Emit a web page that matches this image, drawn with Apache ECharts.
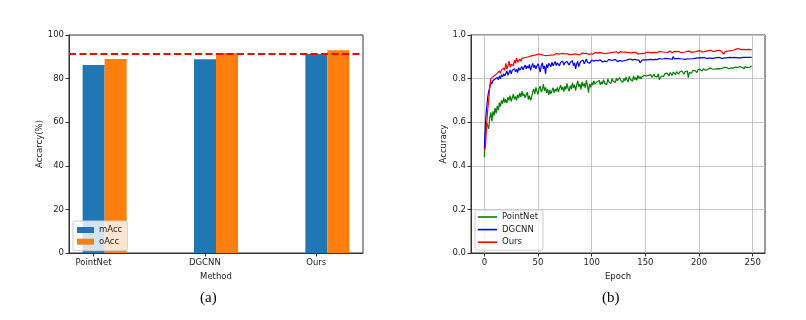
<!DOCTYPE html>
<html>
<head>
<meta charset="utf-8">
<script src="https://cdn.jsdelivr.net/npm/echarts@6/dist/echarts.min.js"></script>
<style>
html, body { margin: 0; padding: 0; background: #fff; }
#chart { width: 806px; height: 320px; }
</style>
</head>
<body>
<div id="chart"></div>
<script>
// (a) bar chart data
const methods = ["PointNet", "DGCNN", "Ours"];
const mAcc = [86.2, 88.9, 91.3];
const oAcc = [89.0, 91.7, 93.0];
const baseline = 91.2;

// (b) accuracy per epoch
const epochTicks = [0, 50, 100, 150, 200, 250];
const accPointNet = [
  0.440, 0.550, 0.600, 0.585, 0.570, 0.620, 0.645, 0.605, 0.650, 0.630,
  0.665, 0.640, 0.675, 0.655, 0.690, 0.672, 0.700, 0.685, 0.712, 0.690,
  0.705, 0.688, 0.715, 0.700, 0.722, 0.695, 0.712, 0.728, 0.705, 0.718,
  0.700, 0.725, 0.712, 0.735, 0.715, 0.742, 0.720, 0.730, 0.712, 0.725,
  0.738, 0.705, 0.722, 0.700, 0.715, 0.738, 0.752, 0.730, 0.760, 0.742,
  0.728, 0.755, 0.765, 0.738, 0.750, 0.775, 0.745, 0.760, 0.735, 0.752,
  0.725, 0.748, 0.730, 0.745, 0.758, 0.735, 0.752, 0.742, 0.760, 0.738,
  0.755, 0.770, 0.748, 0.762, 0.740, 0.765, 0.750, 0.778, 0.755, 0.742,
  0.768, 0.752, 0.780, 0.758, 0.772, 0.745, 0.770, 0.790, 0.762, 0.775,
  0.750, 0.785, 0.765, 0.778, 0.758, 0.792, 0.770, 0.735, 0.775, 0.760,
  0.782, 0.770, 0.790, 0.775, 0.768, 0.785, 0.778, 0.792, 0.772, 0.786,
  0.775, 0.795, 0.780, 0.788, 0.772, 0.798, 0.785, 0.790, 0.778, 0.800,
  0.788, 0.795, 0.782, 0.802, 0.790, 0.785, 0.805, 0.792, 0.798, 0.783,
  0.800, 0.790, 0.808, 0.795, 0.785, 0.810, 0.797, 0.803, 0.788, 0.812,
  0.795, 0.805, 0.792, 0.815, 0.800, 0.810, 0.798, 0.808, 0.803, 0.815,
  0.808, 0.812, 0.805, 0.815, 0.810, 0.818, 0.806, 0.812, 0.820, 0.810,
  0.815, 0.808, 0.822, 0.795, 0.788, 0.812, 0.818, 0.810, 0.822, 0.815,
  0.825, 0.818, 0.812, 0.828, 0.820, 0.815, 0.830, 0.822, 0.818, 0.832,
  0.825, 0.820, 0.830, 0.822, 0.835, 0.828, 0.820, 0.832, 0.826, 0.835,
  0.805, 0.828, 0.832, 0.825, 0.836, 0.830, 0.838, 0.832, 0.828, 0.840,
  0.835, 0.842, 0.838, 0.835, 0.845, 0.840, 0.838, 0.846, 0.842, 0.840,
  0.848, 0.842, 0.845, 0.850, 0.843, 0.847, 0.845, 0.850, 0.846, 0.848,
  0.845, 0.850, 0.848, 0.846, 0.852, 0.848, 0.850, 0.847, 0.845, 0.851,
  0.849, 0.852, 0.848, 0.850, 0.853, 0.849, 0.851, 0.848, 0.855, 0.850,
  0.852, 0.849, 0.845, 0.855, 0.852, 0.850, 0.856, 0.853, 0.855, 0.857
];
const accDGCNN = [
  0.480, 0.600, 0.660, 0.710, 0.740, 0.760, 0.785, 0.775, 0.790, 0.782,
  0.798, 0.790, 0.805, 0.795, 0.812, 0.800, 0.818, 0.808, 0.822, 0.812,
  0.820, 0.835, 0.815, 0.828, 0.840, 0.822, 0.838, 0.830, 0.845, 0.832,
  0.842, 0.828, 0.850, 0.838, 0.845, 0.855, 0.840, 0.852, 0.862, 0.845,
  0.858, 0.848, 0.865, 0.838, 0.855, 0.870, 0.850, 0.862, 0.845, 0.858,
  0.868, 0.852, 0.830, 0.860, 0.872, 0.845, 0.858, 0.822, 0.865, 0.850,
  0.870, 0.862, 0.855, 0.875, 0.858, 0.868, 0.878, 0.860, 0.872, 0.865,
  0.858, 0.875, 0.868, 0.880, 0.862, 0.872, 0.865, 0.878, 0.870, 0.862,
  0.875, 0.868, 0.882, 0.860, 0.872, 0.845, 0.868, 0.878, 0.855, 0.870,
  0.880, 0.872, 0.885, 0.868, 0.878, 0.890, 0.875, 0.882, 0.870, 0.878,
  0.885, 0.876, 0.880, 0.872, 0.884, 0.878, 0.882, 0.875, 0.886, 0.880,
  0.876, 0.884, 0.880, 0.887, 0.878, 0.882, 0.888, 0.880, 0.884, 0.878,
  0.885, 0.880, 0.888, 0.882, 0.878, 0.886, 0.883, 0.889, 0.880, 0.885,
  0.882, 0.888, 0.884, 0.879, 0.887, 0.883, 0.890, 0.881, 0.886, 0.884,
  0.888, 0.882, 0.886, 0.880, 0.885, 0.872, 0.876, 0.885, 0.890, 0.886,
  0.889, 0.886, 0.891, 0.887, 0.890, 0.888, 0.892, 0.886, 0.890, 0.888,
  0.891, 0.887, 0.889, 0.892, 0.888, 0.890, 0.886, 0.891, 0.889, 0.893,
  0.889, 0.892, 0.887, 0.890, 0.893, 0.889, 0.902, 0.890, 0.888, 0.892,
  0.890, 0.893, 0.889, 0.891, 0.894, 0.890, 0.892, 0.888, 0.893, 0.891,
  0.893, 0.890, 0.894, 0.891, 0.895, 0.892, 0.890, 0.894, 0.892, 0.895,
  0.893, 0.896, 0.892, 0.895, 0.893, 0.897, 0.894, 0.892, 0.896, 0.894,
  0.897, 0.894, 0.896, 0.893, 0.897, 0.895, 0.893, 0.896, 0.894, 0.897,
  0.895, 0.893, 0.896, 0.894, 0.897, 0.895, 0.893, 0.896, 0.895, 0.897,
  0.894, 0.896, 0.895, 0.897, 0.894, 0.896, 0.898, 0.895, 0.897, 0.895,
  0.896, 0.898, 0.895, 0.897, 0.896, 0.898, 0.896, 0.897, 0.898, 0.897
];
const accOurs = [
  0.470, 0.490, 0.580, 0.650, 0.700, 0.760, 0.800, 0.795, 0.808, 0.800,
  0.815, 0.808, 0.825, 0.818, 0.835, 0.825, 0.840, 0.832, 0.848, 0.838,
  0.870, 0.845, 0.858, 0.880, 0.852, 0.866, 0.875, 0.860, 0.885, 0.870,
  0.895, 0.875, 0.882, 0.890, 0.880, 0.893, 0.886, 0.895, 0.890, 0.898,
  0.892, 0.900, 0.895, 0.903, 0.898, 0.905, 0.900, 0.908, 0.902, 0.910,
  0.905, 0.912, 0.906, 0.910, 0.915, 0.907, 0.911, 0.905, 0.909, 0.906,
  0.910, 0.907, 0.912, 0.908, 0.913, 0.909, 0.911, 0.915, 0.908, 0.912,
  0.909, 0.914, 0.910, 0.916, 0.911, 0.913, 0.909, 0.915, 0.912, 0.910,
  0.914, 0.910, 0.916, 0.912, 0.908, 0.913, 0.917, 0.911, 0.914, 0.909,
  0.913, 0.918, 0.912, 0.915, 0.910, 0.916, 0.913, 0.911, 0.917, 0.914,
  0.918, 0.912, 0.916, 0.920, 0.914, 0.917, 0.913, 0.919, 0.915, 0.918,
  0.921, 0.916, 0.919, 0.915, 0.920, 0.917, 0.922, 0.918, 0.916, 0.920,
  0.917, 0.921, 0.918, 0.923, 0.919, 0.916, 0.920, 0.924, 0.918, 0.921,
  0.919, 0.922, 0.917, 0.920, 0.925, 0.919, 0.921, 0.918, 0.926, 0.920,
  0.917, 0.921, 0.915, 0.912, 0.918, 0.914, 0.910, 0.916, 0.919, 0.915,
  0.918, 0.921, 0.917, 0.920, 0.923, 0.918, 0.921, 0.919, 0.924, 0.920,
  0.922, 0.918, 0.921, 0.925, 0.920, 0.923, 0.919, 0.922, 0.926, 0.921,
  0.924, 0.920, 0.923, 0.927, 0.921, 0.918, 0.922, 0.925, 0.920, 0.924,
  0.921, 0.925, 0.922, 0.919, 0.924, 0.921, 0.926, 0.922, 0.920, 0.925,
  0.922, 0.926, 0.923, 0.920, 0.925, 0.922, 0.927, 0.924, 0.921, 0.926,
  0.924, 0.928, 0.925, 0.922, 0.927, 0.924, 0.929, 0.926, 0.923, 0.928,
  0.926, 0.930, 0.927, 0.924, 0.929, 0.926, 0.931, 0.928, 0.925, 0.930,
  0.927, 0.924, 0.918, 0.912, 0.922, 0.915, 0.926, 0.930, 0.927, 0.932,
  0.929, 0.933, 0.930, 0.928, 0.934, 0.931, 0.938, 0.932, 0.935, 0.931,
  0.933, 0.932, 0.934, 0.931, 0.933, 0.932, 0.934, 0.932, 0.933, 0.932
];

const font = "DejaVu Sans";
const txt = { fontFamily: font, fontSize: 8.5, color: "#222" };

function toPoints(arr) {
  return arr.map((v, i) => [i, v]);
}

let myChart = echarts.init(document.getElementById("chart"), null, { renderer: "canvas" });

let option = {
  animation: false,
  backgroundColor: "#fff",
  grid: [
    { left: 69, top: 35, width: 294, height: 218, show: true, borderColor: "#333", borderWidth: 1, backgroundColor: "transparent" },
    { left: 471, top: 35, width: 294, height: 218, show: true, borderColor: "#333", borderWidth: 1, backgroundColor: "transparent" }
  ],
  xAxis: [
    {
      gridIndex: 0,
      type: "value",
      min: -0.22,
      max: 2.42,
      name: "Method",
      nameLocation: "middle",
      nameGap: 15,
      nameTextStyle: txt,
      axisLine: { onZero: false, lineStyle: { color: "#333" } },
      axisTick: { customValues: [0, 1, 2], length: 3.5, lineStyle: { color: "#333" } },
      axisLabel: Object.assign({ customValues: [0, 1, 2], margin: 5, formatter: v => methods[Math.round(v)] }, txt),
      splitLine: { show: false }
    },
    {
      gridIndex: 1,
      type: "value",
      min: -12.45,
      max: 261.45,
      name: "Epoch",
      nameLocation: "middle",
      nameGap: 15,
      nameTextStyle: txt,
      axisLine: { onZero: false, lineStyle: { color: "#333" } },
      axisTick: { customValues: epochTicks, length: 3.5, lineStyle: { color: "#333" } },
      axisLabel: Object.assign({ customValues: epochTicks, margin: 5 }, txt),
      splitLine: { show: true, lineStyle: { color: "#c4c4c4", width: 1 } }
    }
  ],
  yAxis: [
    {
      gridIndex: 0,
      type: "value",
      min: 0,
      max: 100,
      interval: 20,
      name: "Accarcy(%)",
      nameLocation: "middle",
      nameGap: 25,
      nameTextStyle: txt,
      axisLine: { show: true, onZero: false, lineStyle: { color: "#333" } },
      axisTick: { show: true, length: 3.5, lineStyle: { color: "#333" } },
      axisLabel: Object.assign({ margin: 5 }, txt),
      splitLine: { show: false }
    },
    {
      gridIndex: 1,
      type: "value",
      min: 0,
      max: 1,
      interval: 0.2,
      name: "Accuracy",
      nameLocation: "middle",
      nameGap: 23,
      nameTextStyle: txt,
      axisLine: { show: true, onZero: false, lineStyle: { color: "#333" } },
      axisTick: { show: true, length: 3.5, lineStyle: { color: "#333" } },
      axisLabel: Object.assign({ margin: 5, formatter: v => v.toFixed(1) }, txt),
      splitLine: { show: true, lineStyle: { color: "#c4c4c4", width: 1 } }
    }
  ],
  legend: [
    {
      data: ["mAcc", "oAcc"],
      orient: "vertical",
      left: 73,
      top: 221,
      icon: "rect",
      itemWidth: 17,
      itemHeight: 6,
      itemGap: 1.7,
      padding: [4, 5, 4, 4],
      backgroundColor: "rgba(255,255,255,0.8)",
      borderColor: "#ccc",
      borderWidth: 1,
      borderRadius: 2,
      textStyle: Object.assign({ lineHeight: 10 }, txt)
    },
    {
      data: ["PointNet", "DGCNN", "Ours"],
      orient: "vertical",
      left: 475,
      top: 210,
      icon: "rect",
      itemWidth: 19,
      itemHeight: 1.6,
      itemGap: 2.6,
      padding: [2, 5, 3, 3],
      backgroundColor: "rgba(255,255,255,0.8)",
      borderColor: "#ccc",
      borderWidth: 1,
      borderRadius: 2,
      textStyle: Object.assign({ lineHeight: 10 }, txt)
    }
  ],
  graphic: [
    { type: "text", left: 200, top: 291, style: { text: "(a)", fontFamily: "Liberation Serif", fontSize: 15, fill: "#000" } },
    { type: "text", left: 602, top: 291, style: { text: "(b)", fontFamily: "Liberation Serif", fontSize: 15, fill: "#000" } }
  ],
  series: [
    {
      name: "mAcc",
      type: "bar",
      xAxisIndex: 0,
      yAxisIndex: 0,
      barWidth: 22,
      barGap: "0%",
      itemStyle: { color: "#1f77b4" },
      data: mAcc.map((v, i) => [i + 0.1, v]),
      markLine: {
        silent: true,
        symbol: "none",
        label: { show: false },
        lineStyle: { color: "#ff0000", type: [7, 3.5], width: 1.8 },
        data: [{ yAxis: baseline }]
      }
    },
    {
      name: "oAcc",
      type: "bar",
      xAxisIndex: 0,
      yAxisIndex: 0,
      barWidth: 22,
      barGap: "0%",
      itemStyle: { color: "#ff7f0e" },
      data: oAcc.map((v, i) => [i + 0.1, v])
    },
    {
      name: "PointNet",
      type: "line",
      xAxisIndex: 1,
      yAxisIndex: 1,
      symbol: "none",
      itemStyle: { color: "#008000" },
      lineStyle: { color: "#008000", width: 1.2 },
      data: toPoints(accPointNet)
    },
    {
      name: "DGCNN",
      type: "line",
      xAxisIndex: 1,
      yAxisIndex: 1,
      symbol: "none",
      itemStyle: { color: "#0000ff" },
      lineStyle: { color: "#0000ff", width: 1.2 },
      data: toPoints(accDGCNN)
    },
    {
      name: "Ours",
      type: "line",
      xAxisIndex: 1,
      yAxisIndex: 1,
      symbol: "none",
      itemStyle: { color: "#ff0000" },
      lineStyle: { color: "#ff0000", width: 1.2 },
      data: toPoints(accOurs)
    }
  ]
};

myChart.setOption(option);
</script>
</body>
</html>
